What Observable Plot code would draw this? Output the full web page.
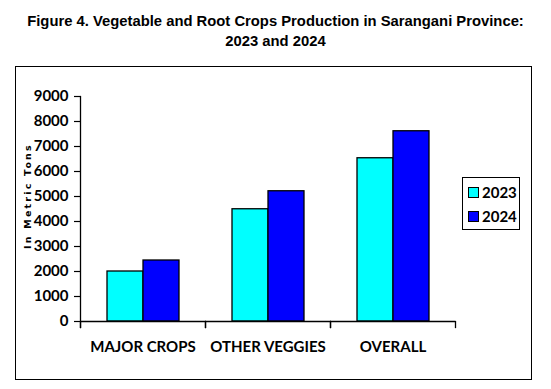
<!DOCTYPE html>
<html>
<head>
<meta charset="utf-8">
<script src="https://cdn.jsdelivr.net/npm/d3@7"></script>
<script src="https://cdn.jsdelivr.net/npm/@observablehq/plot@0.6"></script>
<style>
  html, body { margin: 0; padding: 0; background: #fff; }
  #wrap { position: relative; width: 551px; height: 389px; overflow: hidden; background: #fff; }
  #title { position: absolute; left: 0; top: 11px; width: 551px; text-align: center;
    font-family: "Liberation Sans", Arial, sans-serif; font-weight: bold; font-size: 14.8px; line-height: 20px; color: #000; }
  #border { position: absolute; left: 15px; top: 66px; width: 517px; height: 314px; border: 1px solid #000; box-sizing: border-box; }
  #chart { position: absolute; left: 0; top: 67px; }
  #ytitle { position: absolute; left: 27px; top: 196px; width: 0; height: 0; }
  #ytitle span { position: absolute; left: 0; top: 0; transform: translate(-50%, -50%) rotate(-90deg); white-space: nowrap;
    font-family: "DejaVu Sans", sans-serif; font-weight: bold; font-size: 9.5px; letter-spacing: 2.2px; color: #000; }
  #legend { position: absolute; left: 462px; top: 177px; width: 58px; height: 53px; border: 1px solid #000; box-sizing: border-box; background: #fff;
    font-family: Lato, "Open Sans", sans-serif; font-weight: bold; font-size: 15px; color: #000; }
  .item { position: absolute; left: 5px; height: 18px; line-height: 18px; white-space: nowrap; }
  .sw { display: inline-block; width: 9px; height: 9px; border: 1px solid #000; margin-right: 3px; vertical-align: 0px; }
</style>
</head>
<body>
<div id="wrap">
  <div id="title">Figure 4. Vegetable and Root Crops Production in Sarangani Province:<br>2023 and 2024</div>
  <div id="border"></div>
  <div id="chart"></div>
  <div id="ytitle"><span></span></div>
  <div id="legend"></div>
</div>
<script>
const categories = ["MAJOR CROPS", "OTHER VEGGIES", "OVERALL"];
const years = ["2023", "2024"];
const values2023 = [2000, 4490, 6530];
const values2024 = [2440, 5210, 7610];
const seriesColors = ["#00FFFF", "#0000FF"];
const yTicks = [0, 1000, 2000, 3000, 4000, 5000, 6000, 7000, 8000, 9000];
const yTitle = "In Metric Tons";

const seriesValues = [values2023, values2024];
const data = [];
categories.forEach((c, i) => years.forEach((yr, j) => data.push({cat: c, year: yr, value: seriesValues[j][i]})));

const H = 312, MT = 29, MB = 58;
const chart = Plot.plot({
  width: 551,
  height: H,
  marginLeft: 80,
  marginRight: 96,
  marginTop: MT,
  marginBottom: MB,
  style: {fontFamily: "Lato, 'Open Sans', sans-serif", fontWeight: "bold", fontSize: "15px", color: "#000", background: "transparent", overflow: "visible"},
  fx: {domain: categories, paddingInner: 0, paddingOuter: 0, label: null, axis: null},
  x: {domain: years, paddingInner: 0, paddingOuter: 0.72, axis: null},
  y: {domain: [0, 9000], axis: null},
  color: {domain: years, range: seriesColors},
  marks: [
    Plot.axisFx({anchor: "bottom", tickSize: 0, tickPadding: 20, fontSize: 15, fontWeight: "bold", label: null}),
    Plot.axisY({ticks: yTicks, tickSize: 6, tickPadding: 6, tickFormat: d => String(d), fontSize: 15, fontWeight: "bold", label: null, strokeWidth: 1.2}),
    Plot.barY(data, {fx: "cat", x: "year", y: "value", fill: "year", stroke: "#000", strokeWidth: 1.3}),
    Plot.ruleY([0], {stroke: "#000", strokeWidth: 1.3}),
    Plot.frame({anchor: "left", stroke: "#000", strokeWidth: 1.3, insetTop: 0, insetBottom: -6, facet: "super"}),
    Plot.frame({anchor: "left", stroke: "#000", strokeWidth: 1.3, insetTop: H - MT - MB, insetBottom: -6}),
    Plot.frame({anchor: "right", stroke: "#000", strokeWidth: 1.3, insetTop: H - MT - MB, insetBottom: -6})
  ]
});
document.getElementById("chart").appendChild(chart);

document.querySelector("#ytitle span").textContent = yTitle;

const legend = document.getElementById("legend");
years.forEach((yr, j) => {
  const it = document.createElement("div");
  it.className = "item";
  it.style.top = (5 + j * 24) + "px";
  const sw = document.createElement("span");
  sw.className = "sw";
  sw.style.background = seriesColors[j];
  it.appendChild(sw);
  it.appendChild(document.createTextNode(yr));
  legend.appendChild(it);
});
</script>
</body>
</html>
